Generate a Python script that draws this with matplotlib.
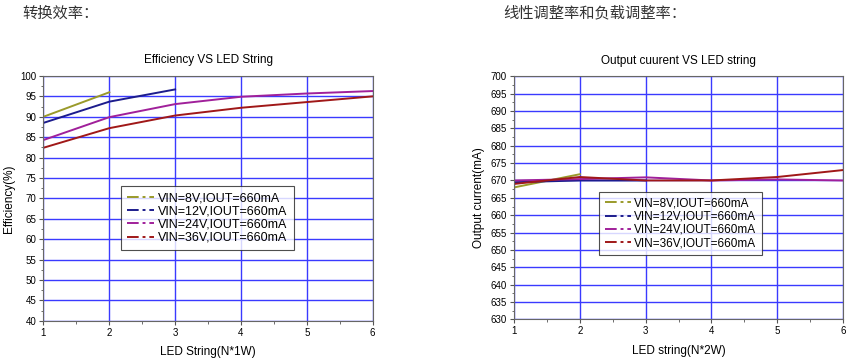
import matplotlib.pyplot as plt
from matplotlib.lines import Line2D
from matplotlib.ticker import MultipleLocator

plt.rcParams['font.family'] = ['Liberation Sans', 'DejaVu Sans']

# efficiency data (LED string count vs %)
eff_x = [1, 2, 3, 4, 5, 6]
eff_8v = [90.0, 96.0]
eff_12v = [88.5, 93.7, 96.7]
eff_24v = [84.3, 89.9, 93.1, 94.9, 95.7, 96.3]
eff_36v = [82.4, 87.2, 90.3, 92.2, 93.6, 95.0]

# output current data (mA)
cur_x = [1, 2, 3, 4, 5, 6]
cur_8v = [668.0, 671.8]
cur_12v = [669.5, 670.0, 670.0]
cur_24v = [670.0, 670.4, 670.9, 670.0, 670.3, 670.0]
cur_36v = [669.0, 671.0, 670.0, 670.0, 671.0, 673.0]

labels = ['VIN=8V,IOUT=660mA', 'VIN=12V,IOUT=660mA',
          'VIN=24V,IOUT=660mA', 'VIN=36V,IOUT=660mA']
colors = ['#9a9a2a', '#1c1c8c', '#a0209a', '#a01818']

fig = plt.figure(figsize=(8.54, 3.61), dpi=100)
ax1 = fig.add_axes([0.0509, 0.1116, 0.3855, 0.678])
ax2 = fig.add_axes([0.6019, 0.1155, 0.3852, 0.673])

cjk = ['Noto Sans CJK SC', 'DejaVu Sans']
fig.text(0.026, 0.963, '转换效率：', fontsize=11, va='center',
         family=cjk, color='#333333')
fig.text(0.589, 0.963, '线性调整率和负载调整率：', fontsize=11, va='center',
         family=cjk, color='#333333')


def style(ax, ylo, yhi, xlabel, ylabel, title):
    ax.set_xlim(1, 6)
    ax.set_ylim(ylo, yhi)
    ax.xaxis.set_major_locator(MultipleLocator(1))
    ax.xaxis.set_minor_locator(MultipleLocator(0.5))
    ax.yaxis.set_major_locator(MultipleLocator(5))
    ax.yaxis.set_minor_locator(MultipleLocator(2.5))
    ax.grid(True, which='major', color='#3a3aff', lw=1.0)
    ax.set_axisbelow(True)
    ax.tick_params(which='both', direction='out', labelsize=7, color='#555555',
                   top=False, right=False, pad=2)
    ax.tick_params(which='major', length=3)
    ax.tick_params(which='minor', length=1.8)
    for s in ax.spines.values():
        s.set_color('#666666')
        s.set_linewidth(0.8)
    ax.set_xlabel(xlabel, fontsize=8.5, labelpad=6)
    ax.set_ylabel(ylabel, fontsize=8.5, labelpad=4)
    ax.set_title(title, fontsize=8.5, pad=9)


ax1.plot(eff_x[:len(eff_8v)], eff_8v, color=colors[0], lw=1.4)
ax1.plot(eff_x[:len(eff_12v)], eff_12v, color=colors[1], lw=1.4)
ax1.plot(eff_x, eff_24v, color=colors[2], lw=1.4)
ax1.plot(eff_x, eff_36v, color=colors[3], lw=1.4)
style(ax1, 40, 100, 'LED String(N*1W)', 'Efficiency(%)', 'Efficiency VS LED String')

ax2.plot(cur_x[:len(cur_8v)], cur_8v, color=colors[0], lw=1.4)
ax2.plot(cur_x[:len(cur_12v)], cur_12v, color=colors[1], lw=1.4)
ax2.plot(cur_x, cur_24v, color=colors[2], lw=1.4)
ax2.plot(cur_x, cur_36v, color=colors[3], lw=1.4)
style(ax2, 630, 700, 'LED string(N*2W)', 'Output current(mA)', 'Output cuurent VS LED string')

handles = [Line2D([], [], color=c, lw=1.4, ls=(0, (6, 2, 1.5, 2))) for c in colors]
for ax, anchor, fs in [(ax1, (0.234, 0.288), 9.0), (ax2, (0.258, 0.265), 8.5)]:
    leg = ax.legend(handles, labels, loc='lower left', bbox_to_anchor=anchor,
                    fontsize=fs, frameon=True, fancybox=False, handlelength=2.2,
                    handletextpad=0.3, labelspacing=0.1, borderpad=0.5,
                    borderaxespad=0)
    leg.get_frame().set_edgecolor('#222222')
    leg.get_frame().set_linewidth(0.8)

fig.savefig('out.png', dpi=100)
